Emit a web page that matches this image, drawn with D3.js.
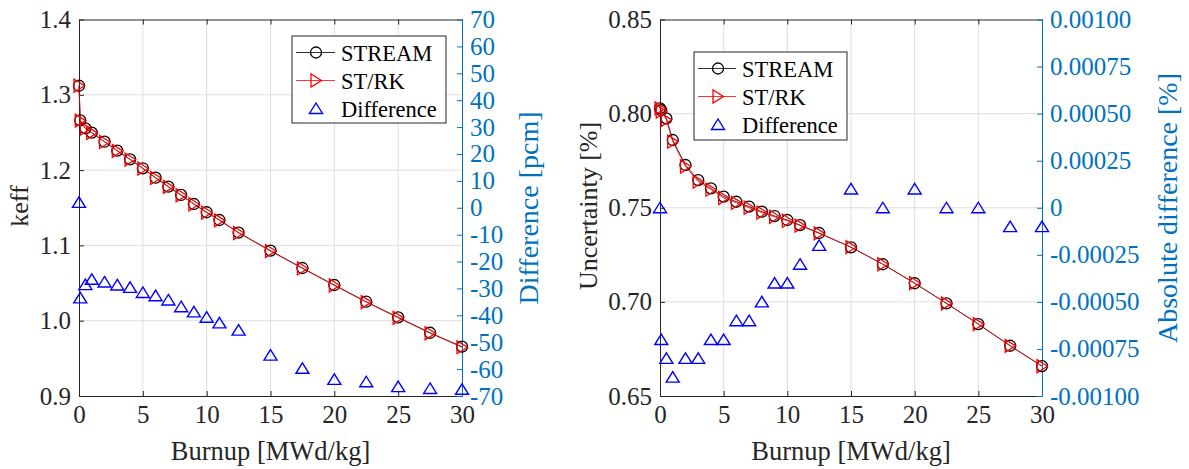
<!DOCTYPE html>
<html>
<head>
<meta charset="utf-8">
<script src="https://cdn.jsdelivr.net/npm/d3@7"></script>
<style>
  body { margin: 0; background: #fff; }
  svg { font-family: "Liberation Serif", "Times New Roman", serif; }
</style>
</head>
<body>
<svg id="chart" width="1189" height="469"></svg>
<script>
// burnup steps (MWd/kg)
const burnup = [0, 0.1, 0.5, 1, 2, 3, 4, 5, 6, 7, 8, 9, 10, 11, 12.5, 15, 17.5, 20, 22.5, 25, 27.5, 30];
const xTicks = [0, 5, 10, 15, 20, 25, 30];

// left panel: keff
const keffStream = [1.3120, 1.2660, 1.2555, 1.2497, 1.2377, 1.2258, 1.2143, 1.2024, 1.1899, 1.1780, 1.1670, 1.1550, 1.1440, 1.1337, 1.1170, 1.0930, 1.0700, 1.0474, 1.0252, 1.0045, 0.9840, 0.9655];
const keffStrk   = [1.3120, 1.2657, 1.2552, 1.2494, 1.2374, 1.2255, 1.2140, 1.2021, 1.1896, 1.1777, 1.1666, 1.1546, 1.1436, 1.1333, 1.1165, 1.0925, 1.0694, 1.0468, 1.0246, 1.0038, 0.9833, 0.9648];
const keffDiff   = [2, -33.5, -28.6, -26.6, -27.6, -28.7, -29.6, -31.5, -32.7, -34.3, -36.8, -38.7, -40.7, -42.8, -45.5, -54.8, -59.7, -63.8, -64.7, -66.5, -67.2, -67.5];
const keffTicks  = [0.9, 1.0, 1.1, 1.2, 1.3, 1.4];
const pcmTicks   = [-70, -60, -50, -40, -30, -20, -10, 0, 10, 20, 30, 40, 50, 60, 70];

// right panel: uncertainty
const uncStream = [0.8028, 0.8018, 0.7975, 0.7860, 0.7727, 0.7647, 0.7603, 0.7559, 0.7532, 0.7506, 0.7479, 0.7456, 0.7435, 0.7408, 0.7366, 0.7290, 0.7200, 0.7099, 0.6992, 0.6882, 0.6767, 0.6659];
const uncStrk   = [0.8028, 0.8011, 0.7967, 0.7851, 0.7719, 0.7639, 0.7596, 0.7552, 0.7526, 0.7500, 0.7474, 0.7452, 0.7431, 0.7405, 0.7364, 0.7291, 0.7200, 0.7100, 0.6992, 0.6882, 0.6766, 0.6658];
const uncDiff   = [0, -0.0007, -0.0008, -0.0009, -0.0008, -0.0008, -0.0007, -0.0007, -0.0006, -0.0006, -0.0005, -0.0004, -0.0004, -0.0003, -0.0002, 0.0001, 0, 0.0001, 0, 0, -0.0001, -0.0001];
const uncTicks  = [0.65, 0.70, 0.75, 0.80, 0.85];
const absTicks  = [-0.001, -0.00075, -0.0005, -0.00025, 0, 0.00025, 0.0005, 0.00075, 0.001];

const legendNames = ["STREAM", "ST/RK", "Difference"];

const FONT = '"Liberation Serif", "Times New Roman", serif';
const INK = "#262626", BLUE2 = "#0072BD", GRID = "#dedede";
const svg = d3.select("#chart");

// marker shapes
const upTri = "M0,-5.5L6.5,5L-6.5,5Z";
const rightTri = "M5.5,0L-5,-6.5L-5,6.5Z";

function drawMarkers(g, pts, kind) {
  if (kind === "circle") {
    g.selectAll(null).data(pts).join("circle")
      .attr("cx", d => d[0]).attr("cy", d => d[1]).attr("r", 5.5)
      .attr("fill", "none").attr("stroke", "#000").attr("stroke-width", 1.3);
  } else if (kind === "right") {
    g.selectAll(null).data(pts).join("path")
      .attr("d", rightTri).attr("transform", d => `translate(${d[0]},${d[1]})`)
      .attr("fill", "none").attr("stroke", "#ff0000").attr("stroke-width", 1.3);
  } else {
    g.selectAll(null).data(pts).join("path")
      .attr("d", upTri).attr("transform", d => `translate(${d[0]},${d[1]})`)
      .attr("fill", "none").attr("stroke", "#0000ff").attr("stroke-width", 1.4);
  }
}

function panel(c) {
  const x = d3.scaleLinear().domain([0, 30]).range([c.x0, c.x1]);
  const y = d3.scaleLinear().domain(c.yDom).range([396, 19.5]);
  const y2 = d3.scaleLinear().domain(c.y2Dom).range([396, 19.5]);
  const g = svg.append("g");

  // grid
  g.selectAll(null).data(xTicks.slice(1, -1)).join("line")
    .attr("x1", d => x(d)).attr("x2", d => x(d)).attr("y1", 19.5).attr("y2", 396)
    .attr("stroke", GRID).attr("stroke-width", 1);
  g.selectAll(null).data(c.yTicks.slice(1, -1)).join("line")
    .attr("y1", d => y(d)).attr("y2", d => y(d)).attr("x1", c.x0).attr("x2", c.x1)
    .attr("stroke", GRID).attr("stroke-width", 1);

  const style = (ax, color, size) => {
    ax.attr("font-family", FONT).attr("font-size", size);
    ax.selectAll("path,line").attr("stroke", color);
    ax.selectAll("text").attr("fill", color);
  };

  const bx = g.append("g").attr("transform", "translate(0,396)")
    .call(d3.axisBottom(x).tickValues(xTicks).tickSize(-5).tickSizeOuter(0).tickPadding(9));
  style(bx, INK, 25);
  const tx = g.append("g").attr("transform", "translate(0,19.5)")
    .call(d3.axisTop(x).tickValues(xTicks).tickSize(-5).tickSizeOuter(0).tickFormat(""));
  style(tx, INK, 25);
  const ly = g.append("g").attr("transform", `translate(${c.x0},0)`)
    .call(d3.axisLeft(y).tickValues(c.yTicks).tickSize(-5).tickSizeOuter(0).tickPadding(8).tickFormat(c.yFmt));
  style(ly, INK, 25);
  const ry = g.append("g").attr("transform", `translate(${c.x1},0)`)
    .call(d3.axisRight(y2).tickValues(c.y2Ticks).tickSize(-5).tickSizeOuter(0).tickPadding(8).tickFormat(c.y2Fmt));
  style(ry, BLUE2, 25);

  // series
  const line = d3.line();
  const ptsA = burnup.map((b, i) => [x(b), y(c.a[i])]);
  const ptsB = burnup.map((b, i) => [x(b), y(c.b[i])]);
  const ptsD = burnup.map((b, i) => [x(b), y2(c.d[i])]);
  g.append("path").attr("d", line(ptsA)).attr("fill", "none").attr("stroke", "#000").attr("stroke-width", 0.8);
  drawMarkers(g.append("g"), ptsA, "circle");
  g.append("path").attr("d", line(ptsB)).attr("fill", "none").attr("stroke", "#ff0000").attr("stroke-width", 0.8);
  drawMarkers(g.append("g"), ptsB, "right");
  drawMarkers(g.append("g"), ptsD, "up");

  // labels
  g.append("text").attr("x", (c.x0 + c.x1) / 2).attr("y", 460).attr("text-anchor", "middle")
    .attr("fill", INK).style("font-size", "26.5px").text("Burnup [MWd/kg]");
  g.append("text").attr("transform", `translate(${c.ylx},206) rotate(-90)`).attr("text-anchor", "middle")
    .attr("fill", INK).style("font-size", c.ylSize + "px").text(c.yLabel);
  g.append("text").attr("transform", `translate(${c.y2lx},208) rotate(-90)`).attr("text-anchor", "middle")
    .attr("fill", BLUE2).style("font-size", "28px").text(c.y2Label);

  // legend
  const L = c.leg;
  const lg = g.append("g");
  lg.append("rect").attr("x", L.x).attr("y", L.y).attr("width", L.w).attr("height", L.h)
    .attr("fill", "#fff").attr("stroke", INK).attr("stroke-width", 1);
  legendNames.forEach((name, i) => {
    const cy = L.y + 16.5 + i * 28;
    const mx = L.x + L.mx;
    if (i < 2) {
      lg.append("line").attr("x1", L.x + 4).attr("x2", L.x + L.lw).attr("y1", cy).attr("y2", cy)
        .attr("stroke", i === 0 ? "#000" : "#ff0000").attr("stroke-width", 0.8);
    }
    drawMarkers(lg.append("g"), [[mx, cy]], ["circle", "right", "up"][i]);
    lg.append("text").attr("x", L.x + L.tx).attr("y", cy + 8).attr("fill", "#000")
      .style("font-size", "22.5px").text(name);
  });
}

panel({
  x0: 79, x1: 462,
  yDom: [0.9, 1.4], yTicks: keffTicks, yFmt: d3.format(".1f"),
  y2Dom: [-70, 70], y2Ticks: pcmTicks, y2Fmt: d => String(d),
  a: keffStream, b: keffStrk, d: keffDiff,
  yLabel: "keff", ylx: 28, ylSize: 26, y2Label: "Difference [pcm]", y2lx: 538,
  leg: { x: 292, y: 36, w: 154, h: 87, lw: 43, mx: 24, tx: 49 }
});

panel({
  x0: 660, x1: 1042,
  yDom: [0.65, 0.85], yTicks: uncTicks, yFmt: d3.format(".2f"),
  y2Dom: [-0.001, 0.001], y2Ticks: absTicks, y2Fmt: d => d === 0 ? "0" : d.toFixed(5),
  a: uncStream, b: uncStrk, d: uncDiff,
  yLabel: "Uncertainty [%]", ylx: 597, ylSize: 26, y2Label: "Absolute difference [%]", y2lx: 1177,
  leg: { x: 694, y: 52, w: 153, h: 88, lw: 42, mx: 24, tx: 48 }
});
</script>
</body>
</html>
